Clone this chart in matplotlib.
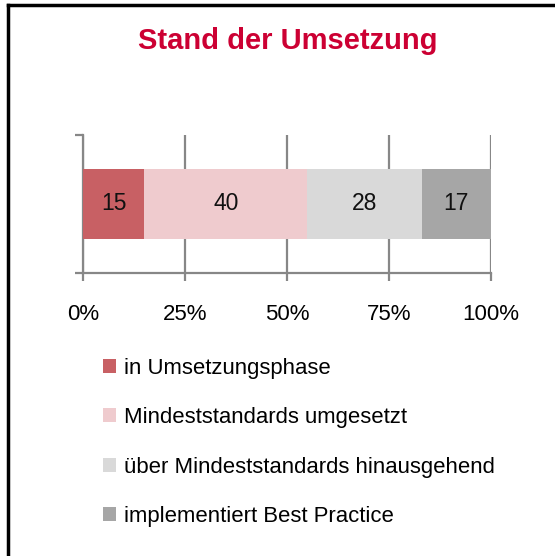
import matplotlib
matplotlib.use("Agg")
import matplotlib.pyplot as plt
from matplotlib.lines import Line2D
from matplotlib.patches import Patch
import numpy as np

categories = ["in Umsetzungsphase", "Mindeststandards umgesetzt",
              "über Mindeststandards hinausgehend", "implementiert Best Practice"]
values = [15, 40, 28, 17]
colors = ["#C86064", "#EFCBCE", "#D9D9D9", "#A6A6A6"]
xticks = [0, 25, 50, 75, 100]
xticklabels = ["0%", "25%", "50%", "75%", "100%"]
title = "Stand der Umsetzung"

FONT = ["Liberation Sans Narrow", "Liberation Sans", "DejaVu Sans"]
plt.rcParams["font.family"] = FONT

W, H = 555, 556
fig = plt.figure(figsize=(W / 100, H / 100), dpi=100)

ax = fig.add_axes([83 / W, 1 - 273 / H, 408 / W, 138 / H])
grey = "#878787"

lefts = np.concatenate([[0], np.cumsum(values)[:-1]])
for v, l, c, lab in zip(values, lefts, colors, categories):
    bars = ax.barh([0], [v], left=[l], height=0.507, color=c, label=lab, zorder=3)
    ax.bar_label(bars, labels=[str(v)], label_type="center", fontsize=16.5, color="#111111")

ax.set_xlim(0, 100)
ax.set_ylim(-0.5, 0.5)
ax.set_xticks(xticks)
ax.set_xticklabels(xticklabels, fontsize=16)
ax.set_yticks([-0.5, 0.5])
ax.set_yticklabels([])
ax.xaxis.grid(True, color=grey, linewidth=1.6, zorder=0)
for s in ["top", "right"]:
    ax.spines[s].set_visible(False)
for s in ["left", "bottom"]:
    ax.spines[s].set_color(grey)
    ax.spines[s].set_linewidth(1.6)
ax.tick_params(axis="both", color=grey, width=1.6, length=6)
ax.tick_params(axis="x", pad=16)

fig.text(288 / W, 1 - 41 / H, title, ha="center", va="center", fontsize=21,
         fontweight="bold", color="#CC0033", family=["Liberation Sans", "DejaVu Sans"])

handles = [Patch(facecolor=c, edgecolor="none") for c in colors]
fig.legend(handles, categories, loc="upper left", bbox_to_anchor=(103 / W, 1 - 358 / H),
           frameon=False, fontsize=15.9, handlelength=0.6, handleheight=0.6,
           handletextpad=0.33, labelspacing=1.28, borderpad=0, borderaxespad=0)

# frame lines (left and top)
fig.add_artist(Line2D([8 / W, 8 / W], [0, 1 - 5 / H], color="black", linewidth=2.5,
                      transform=fig.transFigure))
fig.add_artist(Line2D([8 / W, 1], [1 - 5 / H, 1 - 5 / H], color="black", linewidth=2.5,
                      transform=fig.transFigure))

fig.savefig("out.png", dpi=100)
